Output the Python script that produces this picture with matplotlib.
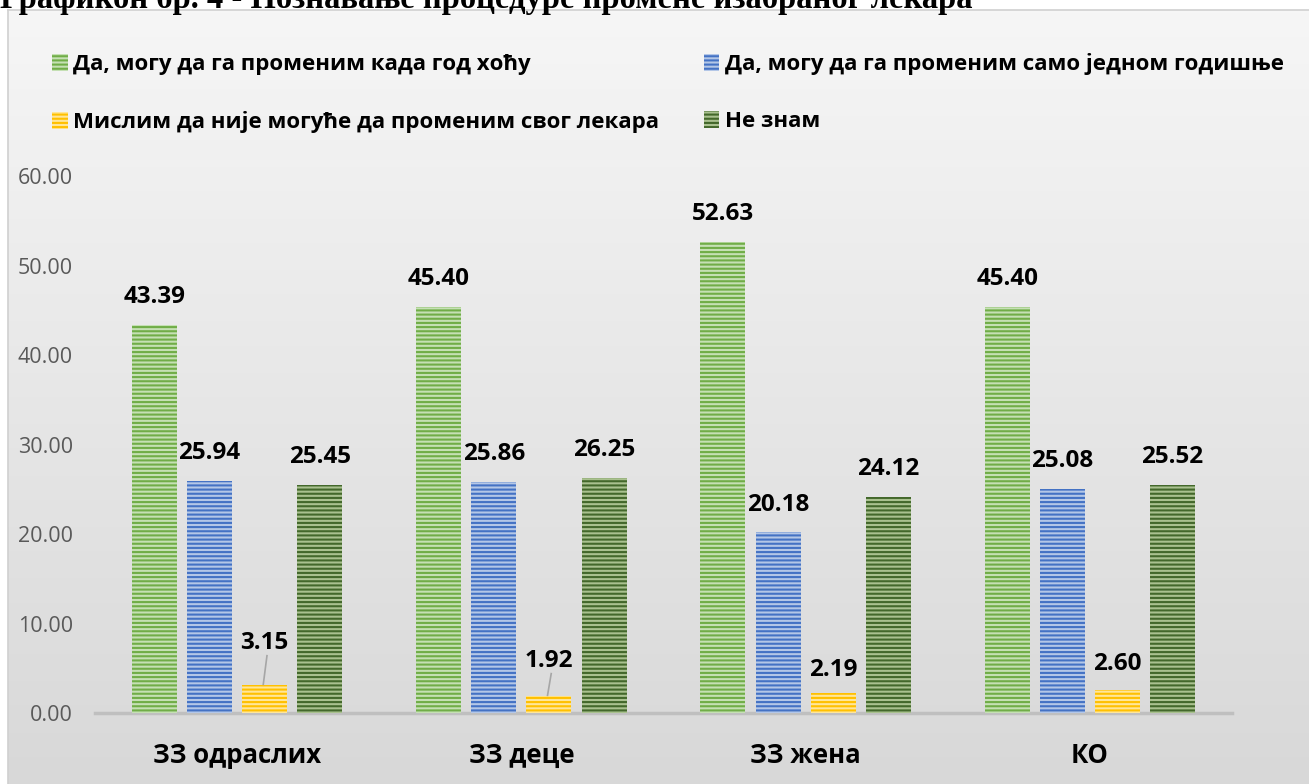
import numpy as np
import matplotlib.pyplot as plt
from matplotlib.colors import LinearSegmentedColormap

categories = ['ЗЗ одраслих', 'ЗЗ деце', 'ЗЗ жена', 'КО']
series = ['Да, могу да га променим када год хоћу',
          'Да, могу да га променим само једном годишње',
          'Мислим да није могуће да променим свог лекара',
          'Не знам']
values = [
    [43.39, 45.40, 52.63, 45.40],
    [25.94, 25.86, 20.18, 25.08],
    [3.15, 1.92, 2.19, 2.60],
    [25.45, 26.25, 24.12, 25.52],
]
# label heights for the small yellow bars (they sit higher, with a leader line)
yellow_label_y = [7.8, 5.8, 4.8, 5.45]
yellow_leader = [True, True, False, False]

stripe_cols = ['#70ad47', '#4472c4', '#ffc000', '#43682b']
face_cols = ['#c5e0b4', '#b4c7e7', '#ffe699', '#a9c18f']

plt.rcParams['font.family'] = ['Open Sans', 'DejaVu Sans']
plt.rcParams['hatch.linewidth'] = 1.5

W, H = 1309, 784
fig = plt.figure(figsize=(W / 100, H / 100), dpi=100)

# background panel with vertical gradient
bg = fig.add_axes([8 / W, 0, 1 - 8 / W, 1 - 10 / H])
grad = np.linspace(0, 1, 256).reshape(-1, 1)
bg.imshow(grad, aspect='auto', cmap=LinearSegmentedColormap.from_list('g', ['#f6f6f6', '#d8d8d8']),
          extent=[0, 1, 0, 1], origin='upper')
bg.set_xlim(0, 1)
bg.set_ylim(0, 1)
bg.set_xticks([])
bg.set_yticks([])
for s in bg.spines.values():
    s.set_color('#d0d0d0')
    s.set_linewidth(1.2)
bg.spines['right'].set_visible(False)
bg.spines['bottom'].set_visible(False)

# title is cut at the top edge, as in the source
fig.text(0.0, 1 - 8 / H, 'Графикон бр. 4 - Познавање процедуре промене изабраног лекара',
         family='Liberation Serif', fontweight='bold', fontsize=23.5, va='baseline', ha='left')

ax = fig.add_axes([95 / W, 1 - 713 / H, (1232 - 95) / W, (713 - 176) / H])
ax.patch.set_alpha(0)

x = np.arange(len(categories))
width = 0.158
step = 0.194
handles = []
for k in range(4):
    pos = x + (k - 1.5) * step
    b = ax.bar(pos, values[k], width, color=face_cols[k], edgecolor=stripe_cols[k],
               linewidth=0, hatch='----', label=series[k], zorder=3)
    handles.append(b)
    for i, v in enumerate(values[k]):
        if k == 2:
            ly = yellow_label_y[i]
            if yellow_leader[i]:
                ax.plot([pos[i] - 0.005, pos[i] + 0.008], [v + 0.05, ly - 1.4],
                        color='#a6a6a6', lw=1.2, zorder=4)
        else:
            ly = v + 3.1
        ax.text(pos[i], ly, f'{v:.2f}', ha='center', va='center', fontsize=17.5,
                fontweight='bold', color='black', zorder=5)

ax.set_xlim(-0.5, 3.5)
ax.set_ylim(0, 60)
ax.set_yticks(np.arange(0, 61, 10))
ax.set_yticklabels([f'{t:.2f}' for t in np.arange(0, 61, 10)])
ax.tick_params(axis='y', length=0, pad=16, labelsize=15.5, labelcolor='#595959')
ax.set_xticks(x)
ax.set_xticklabels(categories)
ax.tick_params(axis='x', length=0, pad=21, labelsize=18.5)
for lab in ax.get_xticklabels():
    lab.set_fontweight('bold')
for s in ['top', 'right', 'left']:
    ax.spines[s].set_visible(False)
ax.spines['bottom'].set_color('#bfbfbf')
ax.spines['bottom'].set_linewidth(2.5)

order = [0, 2, 1, 3]
fig.legend([handles[i] for i in order], [series[i] for i in order], ncol=2,
           loc='upper left', bbox_to_anchor=(32 / W, 1 - 33 / H), frameon=False,
           prop={'weight': 'bold', 'size': 16}, handlelength=0.7, handleheight=0.8,
           handletextpad=0.25, labelspacing=1.62, columnspacing=2.0)

fig.savefig('out.png', dpi=100)
